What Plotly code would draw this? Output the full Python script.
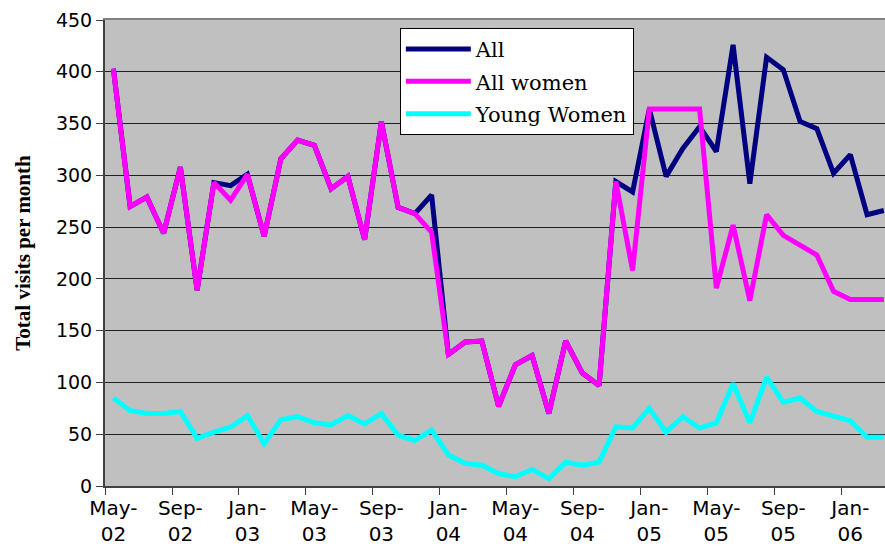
import plotly.graph_objects as go

months = ["May-02", "Jun-02", "Jul-02", "Aug-02", "Sep-02", "Oct-02", "Nov-02", "Dec-02",
          "Jan-03", "Feb-03", "Mar-03", "Apr-03", "May-03", "Jun-03", "Jul-03", "Aug-03",
          "Sep-03", "Oct-03", "Nov-03", "Dec-03", "Jan-04", "Feb-04", "Mar-04", "Apr-04",
          "May-04", "Jun-04", "Jul-04", "Aug-04", "Sep-04", "Oct-04", "Nov-04", "Dec-04",
          "Jan-05", "Feb-05", "Mar-05", "Apr-05", "May-05", "Jun-05", "Jul-05", "Aug-05",
          "Sep-05", "Oct-05", "Nov-05", "Dec-05", "Jan-06", "Feb-06", "Mar-06"]

all_visits = [403, 270, 279, 244, 308, 189, 293, 290, 301, 241, 316, 334, 329, 287, 299, 238,
              352, 269, 263, 281, 127, 139, 140, 77, 117, 126, 70, 140, 109, 97, 294, 284,
              364, 299, 326, 347, 323, 426, 292, 414, 402, 352, 345, 302, 320, 262, 266]

all_women = [403, 270, 279, 244, 308, 189, 293, 276, 301, 241, 316, 334, 329, 287, 299, 238,
             352, 269, 263, 245, 127, 139, 140, 77, 117, 126, 70, 140, 109, 97, 294, 208,
             364, 364, 364, 364, 191, 252, 179, 262, 242, 233, 223, 188, 180, 180, 180]

young_women = [85, 73, 70, 70, 72, 46, 52, 57, 68, 41, 64, 67, 61, 59, 68, 60,
               70, 49, 44, 54, 30, 22, 20, 12, 9, 16, 7, 23, 20, 23, 57, 56,
               75, 52, 67, 56, 61, 99, 61, 105, 81, 85, 72, 67, 63, 47, 47]

y_ticks = [0, 50, 100, 150, 200, 250, 300, 350, 400, 450]

idx = list(range(len(months)))
label_idx = idx[::4]
label_text = [months[i].replace("-", "-<br>") for i in label_idx]
boundary_vals = [i - 0.5 for i in label_idx]

fig = go.Figure()
series = [("All", all_visits, "#000080"),
          ("All women", all_women, "#FF00FF"),
          ("Young Women", young_women, "#00FFFF")]
for name, vals, col in series:
    fig.add_trace(go.Scatter(x=idx, y=vals, name=name, mode="lines",
                             line=dict(color=col, width=5), legendgroup=name))

# top border line of the plot area
fig.add_trace(go.Scatter(x=[None], y=[None], xaxis="x2", showlegend=False))

fig.update_layout(
    width=885, height=548,
    margin=dict(l=105, r=0, t=20, b=62),
    paper_bgcolor="white",
    plot_bgcolor="#C0C0C0",
    showlegend=True,
    legend=dict(x=0.378, y=0.983, xanchor="left", yanchor="top",
                bgcolor="white", bordercolor="black", borderwidth=1,
                font=dict(family="DejaVu Serif", size=21, color="black"),
                itemwidth=65, tracegroupgap=2, traceorder="grouped"),
    xaxis=dict(range=[-0.5, 46.07], tickmode="array", tickvals=label_idx,
               ticktext=label_text, ticks="", showgrid=False, zeroline=False,
               automargin=False, ticklabelstandoff=3,
               showline=True, linecolor="#404040", linewidth=2,
               tickfont=dict(family="DejaVu Sans", size=20, color="black"),
               minor=dict(tickmode="array", tickvals=boundary_vals, ticks="outside",
                          ticklen=7, tickcolor="#404040", tickwidth=1, showgrid=False)),
    xaxis2=dict(overlaying="x", side="top", range=[-0.5, 46.07], showline=True,
                linecolor="#808080", linewidth=2, showticklabels=False, ticks="",
                showgrid=False, zeroline=False, automargin=False),
    yaxis=dict(range=[0, 450], tickmode="array", tickvals=y_ticks,
               ticks="outside", ticklen=7, tickcolor="#404040", tickwidth=1,
               showline=True, linecolor="#404040", linewidth=2, automargin=False,
               gridcolor="#202020", gridwidth=1, zeroline=False,
               tickfont=dict(family="DejaVu Sans", size=19, color="black"),
               title=dict(text="<b>Total visits per month</b>", standoff=20,
                          font=dict(family="Liberation Serif", size=21, color="black"))),
)

fig.write_html("out.html", config={"displayModeBar": False},
               post_script="document.body.style.margin='0';document.body.style.overflow='hidden';")
